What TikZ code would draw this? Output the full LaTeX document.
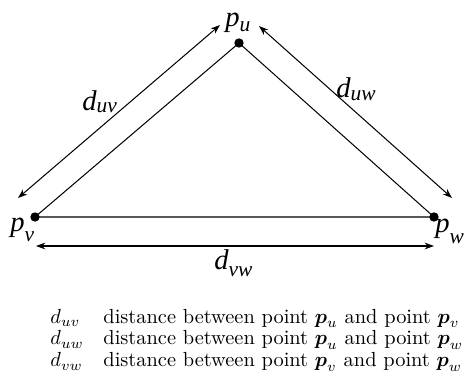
\documentclass[tikz,border=0pt]{standalone}
\usepackage{fontspec}
\newfontfamily\figfont{Liberation Serif}
\usepackage{amsmath}
\usetikzlibrary{
    arrows.meta,
    positioning
}
% label with subscript, #3 = drop of the subscript
\newcommand{\figlab}[3]{#1\raisebox{-#3}{\fontsize{10.5}{11}\selectfont #2}}
\tikzstyle{point} = [
    circle,
    fill=black,
    inner sep=0pt,
    minimum size=4.6pt
]
\tikzstyle{edge} = [
    line width=0.5pt
]
\tikzstyle{dimarrow} = [
    <->,
    >={Stealth[length=4.6pt,width=3.3pt]},
    line width=0.5pt
]
\tikzstyle{ptlabel} = [
    inner sep=0pt,
    anchor=base west,
    font=\fontsize{14}{16}\selectfont\figfont\itshape
]
\tikzstyle{legend} = [
    inner sep=0pt,
    anchor=base west
]

\begin{document}
\begin{tikzpicture}[x=0.49pt, y=-0.49pt]
        \useasboundingbox (0,0) rectangle (467,378);

        % Points
        \node[point] (pu) at (239,43) {};
        \node[point] (pv) at (35,217) {};
        \node[point] (pw) at (434,217) {};

        % Triangle
        \draw[edge] (pu.center) -- (pv.center) -- (pw.center) -- cycle;

        % Distance arrows
        \coordinate (uvA) at (18,198);
        \coordinate (uvB) at (220,25);
        \coordinate (uwA) at (259,26);
        \coordinate (uwB) at (452,198);
        \coordinate (vwA) at (36,246);
        \coordinate (vwB) at (434,246);
        \draw[dimarrow] (uvA) -- (uvB);
        \draw[dimarrow] (uwA) -- (uwB);
        \draw[dimarrow] (vwA) -- (vwB);

        % Labels
        \node[ptlabel] (lpu) at (225,26) {\figlab{p}{u}{2.5pt}};
        \node[ptlabel] (lpv) at (10,231) {\figlab{p}{v}{5pt}};
        \node[ptlabel] (lpw) at (435,232) {\figlab{p}{w}{5.5pt}};
        \node[ptlabel] (ldu) at (82,110) {\figlab{d}{uv}{1pt}};
        \node[ptlabel] (ldw) at (336,97) {\figlab{d}{uw}{1.5pt}};
        \node[ptlabel] (ldv) at (214,269) {\figlab{d}{vw}{3.5pt}};

        % Legend
        \node[legend] (sym1) at (50,323) {$d_{uv}$};
        \node[legend] (txt1) at (103,323) {distance between point $\boldsymbol{p}_u$ and point $\boldsymbol{p}_v$};
        \node[legend] (sym2) at (50,345) {$d_{uw}$};
        \node[legend] (txt2) at (103,345) {distance between point $\boldsymbol{p}_u$ and point $\boldsymbol{p}_w$};
        \node[legend] (sym3) at (50,367) {$d_{vw}$};
        \node[legend] (txt3) at (103,367) {distance between point $\boldsymbol{p}_v$ and point $\boldsymbol{p}_w$};
    \end{tikzpicture}
\end{document}
